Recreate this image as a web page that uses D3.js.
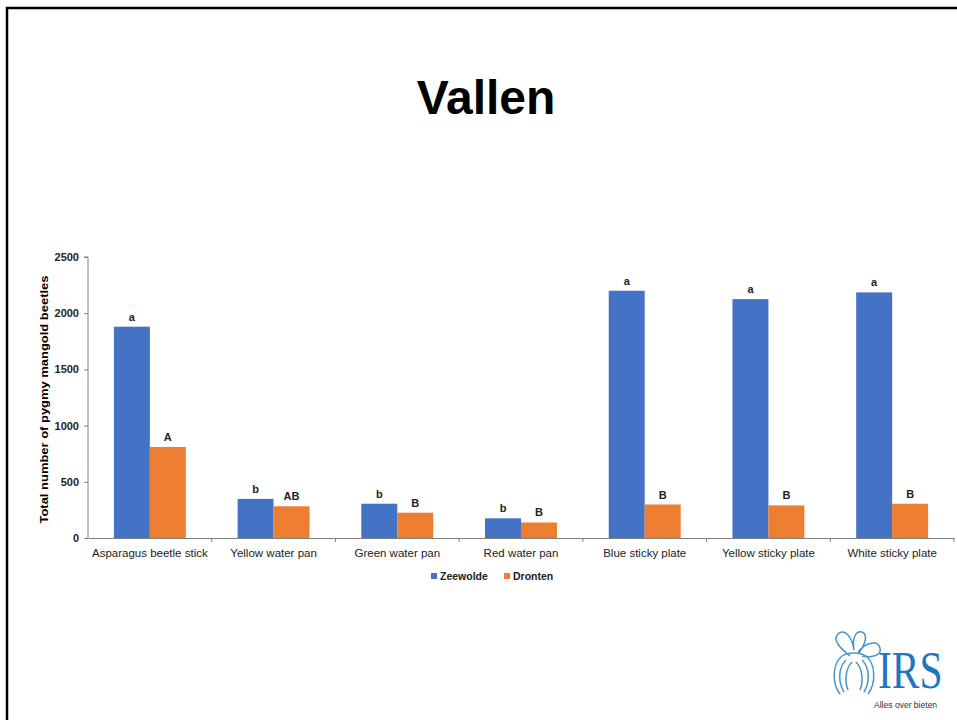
<!DOCTYPE html>
<html>
<head>
<meta charset="utf-8">
<script src="https://cdn.jsdelivr.net/npm/d3@7"></script>
<style>
  body { margin: 0; background: #fff; }
  svg { display: block; font-family: "Liberation Sans", Arial, sans-serif; }
</style>
</head>
<body>
<div id="chart"></div>
<script>
// data
const categories = ['Asparagus beetle stick', 'Yellow water pan', 'Green water pan', 'Red water pan',
                    'Blue sticky plate', 'Yellow sticky plate', 'White sticky plate'];
const seriesNames = ['Zeewolde', 'Dronten'];
const zeewolde = [1880, 348, 305, 175, 2200, 2125, 2185];
const dronten  = [810, 282, 225, 138, 298, 290, 305];
const zeewoldeLetters = ['a', 'b', 'b', 'b', 'a', 'a', 'a'];
const drontenLetters  = ['A', 'AB', 'B', 'B', 'B', 'B', 'B'];
const yTicks = [0, 500, 1000, 1500, 2000, 2500];
const colors = ['#4472C4', '#ED7D31'];

const W = 957, H = 720;
const svg = d3.select('#chart').append('svg').attr('width', W).attr('height', H);

// slide frame
svg.append('rect').attr('x', 7).attr('y', 8).attr('width', W + 10).attr('height', H + 10)
  .attr('fill', 'none').attr('stroke', '#000').attr('stroke-width', 2.5);

svg.append('text').attr('x', 486).attr('y', 114).attr('text-anchor', 'middle')
  .style('font-size', '48px').style('font-weight', 'bold').text('Vallen');

const plot = { left: 88, right: 954, top: 257, bottom: 538 };

const x = d3.scaleBand().domain(categories).range([plot.left, plot.right]).paddingInner(0).paddingOuter(0);
const xSub = d3.scaleBand().domain(seriesNames).range([0, x.bandwidth()]).paddingInner(0).paddingOuter(0.72);
const y = d3.scaleLinear().domain([0, 2500]).range([plot.bottom, plot.top]);

// y axis
const yAxis = svg.append('g').attr('transform', `translate(${plot.left},0)`)
  .call(d3.axisLeft(y).tickValues(yTicks).tickFormat(d3.format('d')).tickSize(4).tickPadding(5));
yAxis.select('.domain').attr('stroke', '#808080').attr('d', `M-4,${plot.top}H0V${plot.bottom}`);
yAxis.selectAll('.tick line').attr('stroke', '#808080');
yAxis.selectAll('text').style('font-size', '11px').style('font-weight', 'bold').attr('fill', '#222')
  .style('font-family', '"Liberation Sans", Arial, sans-serif');

// x axis
const xAxis = svg.append('g').attr('transform', `translate(0,${plot.bottom})`)
  .call(d3.axisBottom(x).tickSize(0).tickPadding(11));
xAxis.select('.domain').attr('stroke', '#808080');
xAxis.selectAll('text').style('font-size', '11.5px').attr('fill', '#222')
  .style('font-family', '"Liberation Sans", Arial, sans-serif');
// boundary tick marks between categories
xAxis.selectAll('.sep').data(categories).enter().append('line').attr('class', 'sep')
  .attr('x1', d => x(d) + x.bandwidth()).attr('x2', d => x(d) + x.bandwidth())
  .attr('y1', 0).attr('y2', 4).attr('stroke', '#808080');

// y axis title
svg.append('text')
  .attr('transform', `translate(48,${(plot.top + plot.bottom) / 2 + 2}) rotate(-90)`)
  .attr('text-anchor', 'middle').style('font-size', '11.5px').style('font-weight', 'bold')
  .attr('textLength', 248).attr('lengthAdjust', 'spacingAndGlyphs')
  .text('Total number of pygmy mangold beetles');

// bars
const rows = categories.map((c, i) => ({
  cat: c,
  vals: [
    { s: seriesNames[0], v: zeewolde[i], l: zeewoldeLetters[i] },
    { s: seriesNames[1], v: dronten[i], l: drontenLetters[i] }
  ]
}));

const groups = svg.selectAll('.grp').data(rows).enter().append('g')
  .attr('transform', d => `translate(${x(d.cat)},0)`);

groups.selectAll('rect').data(d => d.vals).enter().append('rect')
  .attr('x', d => xSub(d.s)).attr('width', xSub.bandwidth())
  .attr('y', d => y(d.v)).attr('height', d => y(0) - y(d.v))
  .attr('fill', (d, i) => colors[i]);

groups.selectAll('.lbl').data(d => d.vals).enter().append('text')
  .attr('x', d => xSub(d.s) + xSub.bandwidth() / 2).attr('y', d => y(d.v) - 6)
  .attr('text-anchor', 'middle').style('font-size', '11px').style('font-weight', 'bold')
  .attr('fill', '#222').text(d => d.l);

// legend
const legend = svg.append('g').attr('transform', 'translate(431,577)');
const legX = [0, 73];
seriesNames.forEach((s, i) => {
  legend.append('rect').attr('x', legX[i]).attr('y', -4).attr('width', 6).attr('height', 6).attr('fill', colors[i]);
  legend.append('text').attr('x', legX[i] + 9).attr('y', 3).style('font-size', '10.5px')
    .style('font-weight', 'bold').attr('fill', '#222').text(s);
});

// IRS logo
const logo = svg.append('g').attr('transform', 'translate(830,628)');
logo.append('path')
  .attr('d', 'M10,66 C2,56 2,36 12,28 C18,24 30,24 36,28 C46,36 46,56 38,66 M14,64 C8,54 8,40 16,32 M34,64 C40,54 40,40 32,32 M18,62 C14,52 16,40 22,34 M30,62 C34,52 32,40 26,34')
  .attr('fill', 'none').attr('stroke', '#4a94cc').attr('stroke-width', 1.5);
logo.append('path')
  .attr('d', 'M20,28 C10,20 2,12 8,6 C14,0 22,8 24,22 M24,22 C22,10 26,2 32,4 C38,6 36,16 28,26 M28,24 C36,14 48,12 50,20 C52,28 40,30 32,28')
  .attr('fill', 'none').attr('stroke', '#4a94cc').attr('stroke-width', 1.5);
logo.append('text').attr('transform', 'translate(48,60) scale(0.8,1)')
  .style('font-family', '"Liberation Serif", "DejaVu Serif", serif')
  .style('font-size', '52px').attr('fill', '#1f78bf').text('IRS');
logo.append('text').attr('transform', 'translate(44,80) scale(0.95,1)').style('font-size', '9px')
  .attr('fill', '#333').text('Alles over bieten');
</script>
</body>
</html>
